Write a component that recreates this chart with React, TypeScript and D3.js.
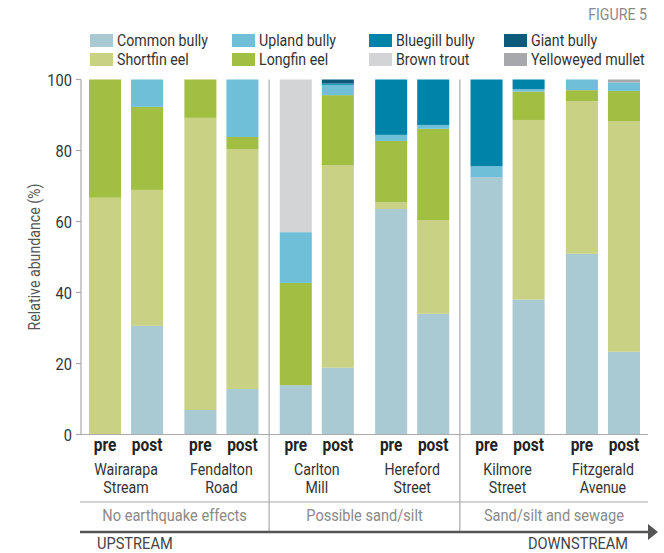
import React from "react";
import * as d3 from "d3";

const species = [
  "Common bully",
  "Shortfin eel",
  "Longfin eel",
  "Upland bully",
  "Brown trout",
  "Bluegill bully",
  "Giant bully",
  "Yelloweyed mullet",
];
const colors = ["#a9c9d3", "#c9d185", "#a1bf43", "#6fbfd9", "#d3d4d6", "#0083a9", "#0d5b7a", "#a7a8ab"];

// legend order (row-major, 4 columns)
const legendOrder = [
  "Common bully",
  "Upland bully",
  "Bluegill bully",
  "Giant bully",
  "Shortfin eel",
  "Longfin eel",
  "Brown trout",
  "Yelloweyed mullet",
];

const sites = ["Wairarapa|Stream", "Fendalton|Road", "Carlton|Mill", "Hereford|Street", "Kilmore|Street", "Fitzgerald|Avenue"];
const periods = ["pre", "post"];
const groups = ["No earthquake effects", "Possible sand/silt", "Sand/silt and sewage"];
const yTicks = [0, 20, 40, 60, 80, 100];

// values per bar (site, period) in species order
const Common = [0, 30.6, 6.9, 12.8, 13.9, 18.8, 63.5, 34.0, 72.5, 38.0, 50.9, 23.3];
const Shortfin = [66.7, 38.3, 82.3, 67.6, 0, 57.1, 2.0, 26.4, 0, 50.6, 43.0, 65.0];
const Longfin = [33.3, 23.4, 10.8, 3.4, 28.8, 19.7, 17.2, 25.7, 0, 8.0, 3.1, 8.5];
const Upland = [0, 7.7, 0, 16.2, 14.3, 2.9, 1.7, 1.1, 3.1, 0.7, 3.0, 2.4];
const BrownTrout = [0, 0, 0, 0, 43.0, 0, 0, 0, 0, 0, 0, 0];
const Bluegill = [0, 0, 0, 0, 0, 0.4, 15.6, 12.8, 24.4, 2.7, 0, 0];
const Giant = [0, 0, 0, 0, 0, 1.1, 0, 0, 0, 0, 0, 0];
const Mullet = [0, 0, 0, 0, 0, 0, 0, 0, 0, 0, 0, 0.8];
const seriesValues = [Common, Shortfin, Longfin, Upland, BrownTrout, Bluegill, Giant, Mullet];

const FONT = "Roboto, 'DejaVu Sans Condensed', sans-serif";
const SX = 0.86;

function T(props: any) {
  const { x, y, anchor, size, fill, weight, rotate, children } = props;
  return (
    <text
      transform={`translate(${x},${y})${rotate ? ` rotate(${rotate})` : ""} scale(${SX},1)`}
      textAnchor={anchor || "start"}
      fontSize={size}
      fill={fill}
      fontWeight={weight || "normal"}
    >
      {children}
    </text>
  );
}

export default function App() {
  const W = 664, H = 553;
  const y = d3.scaleLinear().domain([0, 100]).range([434.5, 79.5]);
  const xSite = d3.scaleBand().domain(sites).range([89, 640]).paddingInner(0.223).paddingOuter(0);
  const xPer = d3.scaleBand().domain(periods).range([0, xSite.bandwidth()]).paddingInner(0.238).paddingOuter(0);

  const rows = sites.flatMap((s, si) =>
    periods.map((p, pi) => {
      const idx = si * 2 + pi;
      const r: any = { site: s, period: p };
      species.forEach((sp, k) => (r[sp] = seriesValues[k][idx]));
      return r;
    })
  );
  const stack = d3.stack().keys(species)(rows as any);

  const sepX = [
    ((xSite(sites[1]) as number) + xSite.bandwidth() + (xSite(sites[2]) as number)) / 2,
    ((xSite(sites[3]) as number) + xSite.bandwidth() + (xSite(sites[4]) as number)) / 2,
  ];
  const leftX = 80, rightX = 648;
  const groupBounds = [leftX, sepX[0], sepX[1], rightX];

  const legendCols = [90, 232, 369, 504];
  const legendRows = [34, 53];

  return (
    <svg width={W} height={H} style={{ position: "absolute", left: 0, top: 0, background: "#fff" }} fontFamily={FONT}>
      <T x={647} y={20} anchor="end" size={16.5} fill="#8a8a8a">FIGURE 5</T>

      {legendOrder.map((name, i) => {
        const col = i % 4, row = Math.floor(i / 4);
        const k = species.indexOf(name);
        return (
          <g key={name}>
            <rect x={legendCols[col]} y={legendRows[row]} width={23} height={13} fill={colors[k]} />
            <T x={legendCols[col] + 27} y={legendRows[row] + 12} size={16.5} fill="#333">{name}</T>
          </g>
        );
      })}

      {/* bars */}
      {stack.map((layer: any, k: number) => (
        <g key={k} fill={colors[k]}>
          {layer.map((d: any, i: number) => {
            const h = y(d[0]) - y(d[1]);
            if (h <= 0) return null;
            const x = (xSite(d.data.site) as number) + (xPer(d.data.period) as number);
            return <rect key={i} x={x} y={y(d[1])} width={xPer.bandwidth()} height={h} />;
          })}
        </g>
      ))}

      {/* y axis */}
      <line x1={81} x2={81} y1={y(100)} y2={y(0)} stroke="#aaa" strokeWidth={1.2} />
      <line x1={76} x2={rightX} y1={y(0)} y2={y(0)} stroke="#aaa" strokeWidth={1.2} />
      {yTicks.map((t) => (
        <g key={t}>
          <line x1={76} x2={81} y1={y(t)} y2={y(t)} stroke="#aaa" strokeWidth={1.2} />
          <T x={72} y={y(t) + 6} anchor="end" size={17} fill="#333">{t}</T>
        </g>
      ))}
      <T x={40} y={(y(0) + y(100)) / 2} rotate={-90} anchor="middle" size={16.5} fill="#555">
        Relative abundance (%)
      </T>

      {/* separators */}
      {sepX.map((sx, i) => (
        <line key={i} x1={sx} x2={sx} y1={y(100)} y2={532} stroke="#aaa" strokeWidth={1.2} />
      ))}

      {/* pre/post labels */}
      {sites.map((s) =>
        periods.map((p) => (
          <T key={s + p} x={(xSite(s) as number) + (xPer(p) as number) + xPer.bandwidth() / 2} y={451}
            anchor="middle" size={18} fill="#222" weight="bold">{p}</T>
        ))
      )}
      {/* site names */}
      {sites.map((s) => {
        const cx = (xSite(s) as number) + xSite.bandwidth() / 2;
        const [a, b] = s.split("|");
        return (
          <g key={s}>
            <T x={cx} y={475} anchor="middle" size={16.5} fill="#333">{a}</T>
            <T x={cx} y={493} anchor="middle" size={16.5} fill="#333">{b}</T>
          </g>
        );
      })}

      <line x1={leftX} x2={rightX} y1={502} y2={502} stroke="#aaa" strokeWidth={1.2} />
      {groups.map((g, i) => (
        <T key={g} x={(groupBounds[i] + groupBounds[i + 1]) / 2} y={521} anchor="middle" size={17} fill="#8a8a8a">{g}</T>
      ))}

      {/* arrow */}
      <line x1={leftX} x2={650} y1={532} y2={532} stroke="#555" strokeWidth={2.5} />
      <path d="M648,524 L658,532 L648,540 Z" fill="#555" />
      <T x={97} y={549} size={17} fill="#444">UPSTREAM</T>
      <T x={628} y={549} anchor="end" size={17} fill="#444">DOWNSTREAM</T>
    </svg>
  );
}
